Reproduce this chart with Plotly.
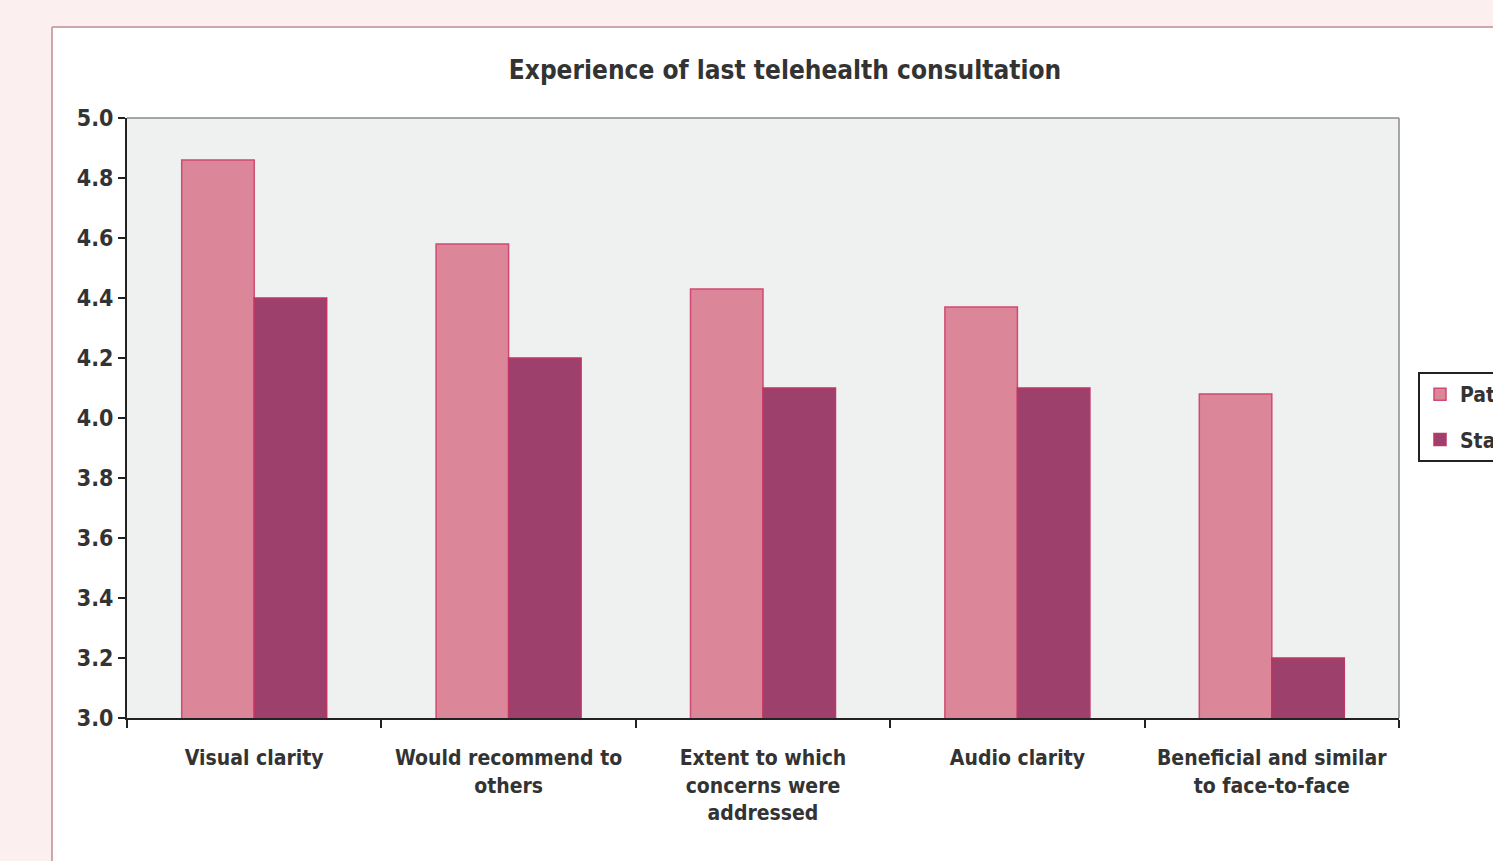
import plotly.graph_objects as go

categories = [
    "Visual clarity",
    "Would recommend to<br>others",
    "Extent to which<br>concerns were<br>addressed",
    "Audio clarity",
    "Beneficial and similar<br>to face-to-face",
]
patients = [4.86, 4.58, 4.43, 4.37, 4.08]
staff = [4.40, 4.20, 4.10, 4.10, 3.20]
y_ticks = [3.0, 3.2, 3.4, 3.6, 3.8, 4.0, 4.2, 4.4, 4.6, 4.8, 5.0]

FONT = "DejaVu Sans Condensed, Liberation Sans Narrow, sans-serif"
W, H = 1493, 861
L, R, T, B = 127, 94, 118, 143
PW, PH = W - L - R, H - T - B


def px_x(p):
    return (p - L) / PW


def px_y(p):
    return (H - B - p) / PH


fig = go.Figure()
fig.add_trace(go.Bar(
    name="Patients", x=categories, y=patients, legendgroup="p",
    marker=dict(color="#dc8699", line=dict(color="#d04a72", width=1.5)),
))
fig.add_trace(go.Bar(
    name="Staff", x=categories, y=staff, legendgroup="s",
    marker=dict(color="#9e406c", line=dict(color="#c03563", width=1.5)),
))

pink = "#fcefef"
border = "#cfa6b0"
shapes = [
    dict(type="rect", xref="paper", yref="paper", x0=px_x(-5), x1=px_x(52), y0=px_y(H + 5), y1=px_y(-5),
         fillcolor=pink, line=dict(width=0), layer="below"),
    dict(type="rect", xref="paper", yref="paper", x0=px_x(-5), x1=px_x(W + 5), y0=px_y(27), y1=px_y(-5),
         fillcolor=pink, line=dict(width=0), layer="below"),
    dict(type="line", xref="paper", yref="paper", x0=px_x(52), x1=px_x(52), y0=px_y(27), y1=px_y(H + 5),
         line=dict(color=border, width=2), layer="below"),
    dict(type="line", xref="paper", yref="paper", x0=px_x(52), x1=px_x(W + 5), y0=px_y(27), y1=px_y(27),
         line=dict(color=border, width=2), layer="below"),
    dict(type="line", xref="paper", yref="paper", x0=0, x1=1, y0=1, y1=1,
         line=dict(color="#8a8a8a", width=1.5)),
    dict(type="line", xref="paper", yref="paper", x0=1, x1=1, y0=0, y1=1,
         line=dict(color="#8a8a8a", width=1.5)),
]

fig.update_layout(
    width=W, height=H,
    margin=dict(l=L, r=R, t=T, b=B, autoexpand=False),
    paper_bgcolor="white",
    plot_bgcolor="#eff1f1",
    barmode="group",
    bargap=0.43,
    bargroupgap=0,
    title=dict(
        text="<b>Experience of last telehealth consultation</b>",
        x=px_x(785), xanchor="center", xref="paper",
        y=1 - 70 / H, yanchor="middle",
        font=dict(family=FONT, size=26, color="#333333"),
    ),
    font=dict(family=FONT, color="#333333"),
    legend=dict(
        x=px_x(1418), xanchor="left", y=px_y(372), yanchor="top",
        bgcolor="white", bordercolor="#222222", borderwidth=2,
        font=dict(family=FONT, size=21, color="#333333", weight="bold"),
        itemwidth=30, tracegroupgap=15,
    ),
    shapes=shapes,
)

fig.update_xaxes(
    showline=True, linecolor="#222222", linewidth=2,
    ticks="outside", tickson="boundaries", ticklen=8, tickwidth=2, tickcolor="#222222",
    tickfont=dict(family=FONT, size=21, color="#333333", weight="bold"),
    ticklabelstandoff=20,
    showgrid=False,
)
fig.update_yaxes(
    range=[3.0, 5.0], tickvals=y_ticks, tickformat=".1f",
    showline=True, linecolor="#222222", linewidth=2,
    ticks="outside", ticklen=7, tickwidth=2, tickcolor="#222222",
    tickfont=dict(family=FONT, size=23, color="#333333", weight="bold"),
    showgrid=False, zeroline=False,
)

fig.write_html("out.html")
